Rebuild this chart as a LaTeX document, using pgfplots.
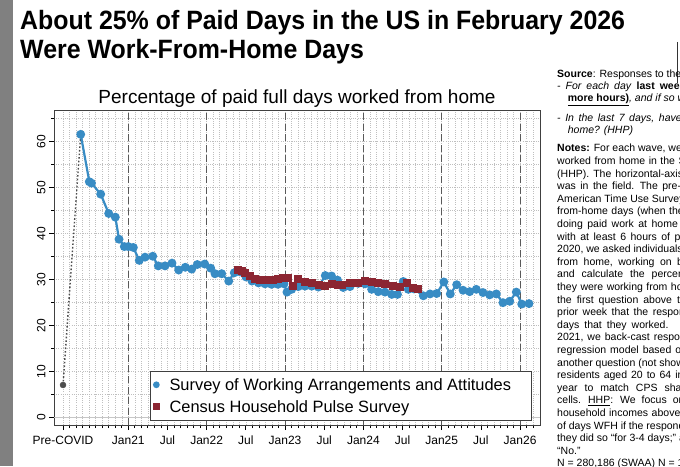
\documentclass[border=0pt]{standalone}
\usepackage{pgfplots}
\pgfplotsset{compat=1.18}
\usepackage{fontspec}
\setmainfont{Liberation Sans}
\newfontfamily\titlefont[FakeStretch=0.94]{Liberation Sans}
\definecolor{swaa}{RGB}{56,140,196}
\definecolor{hhp}{RGB}{140,38,50}
\definecolor{stripgray}{RGB}{128,128,128}
\newcommand\tl[3]{\node[anchor=base west, inner sep=0pt, font=\fontsize{10.5}{12.6}\selectfont] at (#1,#2) {#3};}
\begin{document}
\begin{tikzpicture}[x=1pt,y=1pt]
\fill[stripgray] (0,0) rectangle (12.5,466);
\begin{axis}[
  at={(54pt,41pt)}, anchor=south west,
  scale only axis, width=486pt, height=315pt,
  xmin=-11.38, xmax=63.05, ymin=-1.6, ymax=66.9,
  xtick={-10,0,6,12,18,24,30,36,42,48,54,60},
  xticklabels={Pre-COVID,Jan21,Jul,Jan22,Jul,Jan23,Jul,Jan24,Jul,Jan25,Jul,Jan26},
  minor xtick={-9,-8,...,62},
  ytick={0,10,...,60},
  minor ytick={5,15,...,65},
  tick pos=left,
  tick align=outside,
  major tick length=5pt, minor tick length=3pt,
  every tick/.style={black, line width=0.8pt},
  axis line style={black!75, line width=0.9pt},
  grid=both,
  grid style={gray!50, line width=0.5pt, dash pattern=on 0.6pt off 1.6pt},
  minor grid style={gray!50, line width=0.5pt, dash pattern=on 0.6pt off 1.6pt},
  tick label style={font=\fontsize{12}{14}\selectfont},
  /pgf/number format/assume math mode=true,
  xticklabel style={yshift=-2.5pt},
  yticklabel style={rotate=90, anchor=south},
  legend cell align=left,
  legend image code/.code={\draw[#1, mark size=2.2pt] plot coordinates {(0pt,0pt)};},
  legend style={at={(0.197,0.0137)}, anchor=south west, draw=black!75, line width=0.8pt,
    fill=white, font=\fontsize{16.4}{19}\selectfont, inner xsep=4pt, inner ysep=5pt,
    row sep=5pt, nodes={inner sep=2pt, text height=12pt, text depth=1pt},
    /tikz/every odd column/.append style={column sep=9pt}},
]
\pgfplotsinvokeforeach{0,12,24,36,48,60}{
  \draw[gray!70!black, line width=1pt, dash pattern=on 7pt off 3.5pt] (axis cs:#1,-1.6) -- (axis cs:#1,66.9);
}
\draw[gray!45, line width=0.8pt] (axis cs:-11.38,0) -- (axis cs:63.05,0);
\addplot[forget plot, black!70, line width=1.4pt, dash pattern=on 1.6pt off 2pt] coordinates {(-10,7.1) (-7.29,61.6)};
\addplot[forget plot, only marks, mark=*, mark size=3pt, color=black!70] coordinates {(-10,7.1)};
\addplot[swaa, line width=2.2pt, mark=*, mark size=3.3pt, mark options={solid}] table {
x y
-7.29 61.6
-5.97 51.3
-5.64 51.0
-4.23 48.6
-3.00 44.4
-1.99 43.6
-1.42 38.8
-0.61 37.2
0.00 37.2
0.77 37.0
1.68 34.2
2.56 34.9
3.74 35.1
4.59 33.0
5.62 33.0
6.69 33.6
7.72 32.1
8.73 32.7
9.71 32.3
10.57 33.3
11.70 33.4
12.62 32.5
13.28 31.3
14.30 31.3
15.38 29.7
16.23 31.5
17.11 31.7
18.02 30.6
18.94 29.7
19.94 29.3
20.93 29.1
21.93 29.0
22.92 29.0
23.84 29.1
24.30 27.3
25.02 27.9
26.03 28.5
27.06 28.6
28.09 28.6
29.10 28.4
30.17 30.9
31.12 30.8
32.04 29.9
32.92 28.3
33.95 28.5
35.22 29.2
36.25 29.1
37.27 27.9
38.28 27.4
39.31 27.3
40.34 26.8
41.22 26.8
42.11 29.6
42.88 27.9
43.75 28.0
45.18 26.5
46.20 26.9
47.23 27.0
48.32 29.5
49.31 26.9
50.29 28.9
51.26 27.7
52.28 27.4
53.29 27.9
54.32 27.2
55.34 26.7
56.36 26.9
57.38 25.0
58.41 25.3
59.42 27.3
60.25 24.7
61.36 24.8
};
\addlegendentry{\makebox[356pt][l]{Survey of Working Arrangements and Attitudes}}
\addplot[hhp, line width=2.2pt, mark=square*, mark size=2.9pt, mark options={solid}] table {
x y
16.85 32.0
17.41 31.8
17.87 31.5
18.64 30.8
19.40 30.1
20.17 30.0
21.19 29.9
22.16 29.9
22.92 30.1
23.74 30.4
24.46 30.4
25.27 28.6
25.94 30.2
27.06 29.4
28.09 29.3
29.25 28.8
30.12 28.7
31.15 29.0
32.16 28.8
32.68 28.8
33.95 29.2
35.22 29.3
36.25 29.8
37.27 29.6
38.28 29.2
39.31 29.0
40.58 28.6
41.61 28.5
42.63 29.2
43.64 28.1
44.29 27.9
};
\addlegendentry{Census Household Pulse Survey}
\end{axis}
% titles
\node[anchor=base west, inner sep=0pt, font=\fontsize{26.5}{30}\titlefont\bfseries] at (20,436) {About 25\% of Paid Days in the US in February 2026};
\node[anchor=base west, inner sep=0pt, font=\fontsize{26.5}{30}\titlefont\bfseries] at (20,407) {Were Work-From-Home Days};
\node[anchor=base, inner sep=0pt, font=\fontsize{19}{22}\selectfont] at (297,362) {Percentage of paid full days worked from home};
% right-hand notes
\draw[black!80, line width=1.5pt] (677.5,424) -- (677.5,383);
\tl{557}{388.4}{\textbf{Source}: Responses to the questions:}
\tl{557}{376.4}{{\spaceskip=5pt\relax\textit{- For each day} \textbf{last week did you work}}}
\tl{567.7}{364.1}{\textbf{\underline{more hours)}}\textit{, and if so where?}}
\tl{557}{344.1}{{\spaceskip=4.6pt\relax\textit{- In the last 7 days, have you worked}}}
\tl{567.7}{332.4}{\textit{home? (HHP)}}
\tl{557}{314.1}{\textbf{Notes:} For each wave, we compute}
\tl{557}{301.5}{{\spaceskip=3.5pt\relax worked from home in the SWAA}}
\tl{557}{288.9}{{\spaceskip=4pt\relax (HHP). The horizontal-axis location}}
\tl{557}{276.3}{{\spaceskip=4.5pt\relax was in the field. The pre-COVID}}
\tl{557}{263.7}{American Time Use Survey, which}
\tl{557}{251.1}{{\spaceskip=3.5pt\relax from-home days (when the respondent}}
\tl{557}{238.5}{{\spaceskip=4.5pt\relax doing paid work at home or}}
\tl{557}{225.9}{{\spaceskip=4.5pt\relax with at least 6 hours of paid}}
\tl{557}{213.3}{2020, we asked individuals}
\tl{557}{200.7}{{\spaceskip=5.5pt\relax from home, working on business}}
\tl{557}{188.1}{{\spaceskip=7pt\relax and calculate the percentage}}
\tl{557}{175.5}{{\spaceskip=3.5pt\relax they were working from home}}
\tl{557}{162.9}{{\spaceskip=5pt\relax the first question above to}}
\tl{557}{150.3}{{\spaceskip=4.5pt\relax prior week that the respondent}}
\tl{557}{137.7}{{\spaceskip=5pt\relax days that they worked.\hspace{14pt}For}}
\tl{557}{125.1}{{\spaceskip=4pt\relax 2021, we back-cast responses}}
\tl{557}{112.5}{{\spaceskip=4pt\relax regression model based on}}
\tl{557}{99.9}{another question (not shown)}
\tl{557}{87.3}{{\spaceskip=4pt\relax residents aged 20 to 64 in}}
\tl{557}{74.7}{{\spaceskip=7pt\relax year to match CPS shares}}
\tl{557}{62.1}{{\spaceskip=6pt\relax cells. \underline{HHP}: We focus on}}
\tl{557}{49.5}{{\spaceskip=3.5pt\relax household incomes above}}
\tl{557}{36.9}{of days WFH if the respondent}
\tl{557}{24.3}{they did so ``for 3-4 days;'' and}
\tl{557}{11.7}{``No.''}
\tl{557}{-0.9}{N = 280,186 (SWAA) N = 1,000,000 (HHP)}
\pgfresetboundingbox
\path[use as bounding box] (0,0) rectangle (680,466);
\end{tikzpicture}
\end{document}
